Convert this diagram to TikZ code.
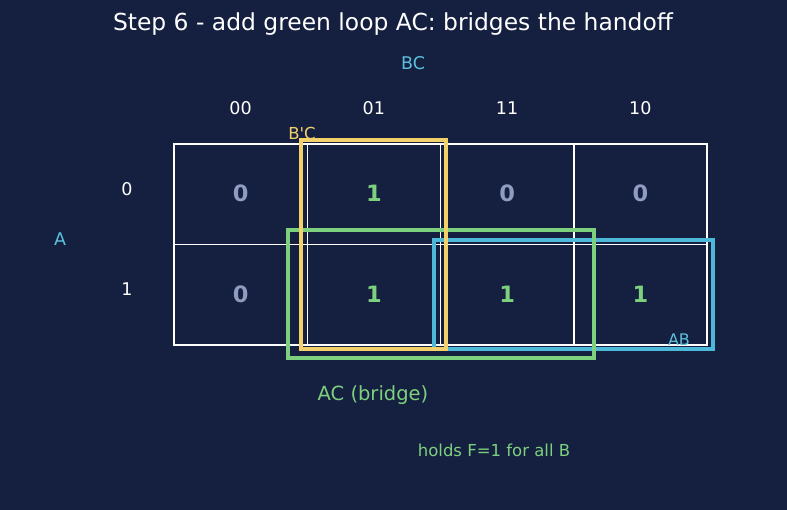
\documentclass[tikz,border=0pt]{standalone}
\usepackage{fontspec}
\setmainfont{DejaVu Sans}
\definecolor{bgnavy}{HTML}{152040}
\definecolor{cyanlab}{HTML}{5BC0DE}
\definecolor{zerogray}{HTML}{8E9CC0}
\definecolor{onegreen}{HTML}{7DD07D}
\definecolor{loopyellow}{HTML}{F2D16B}
\definecolor{loopgreen}{HTML}{7DD07D}
\definecolor{loopblue}{HTML}{4DB8D8}
\tikzset{
  cellbox/.style={draw=white, line width=1.5pt},
  header/.style={text=white, font=\fontsize{17.5}{20}\selectfont},
  zeroval/.style={text=zerogray, font=\fontsize{22.5}{26}\selectfont\bfseries},
  oneval/.style={text=onegreen, font=\fontsize{22.5}{26}\selectfont\bfseries},
  loopbox/.style={line width=4.5pt}
}
\begin{document}
\begin{tikzpicture}[x=1pt, y=-1pt, line join=miter]
		\fill[bgnavy] (0,0) rectangle (787,510);
		\useasboundingbox (0,0) rectangle (787,510);
		% grid cells
		\foreach \c in {0,1,2,3}
		\foreach \r in {0,1}
		\draw[cellbox] ({174+133.25*\c},{144+100.5*\r}) rectangle ++(133.25,100.5);
		% titles and headers
		\node[text=white, font=\fontsize{23.4}{27}\selectfont] (title) at (393,24) {Step 6 - add green loop AC: bridges the handoff};
		\node[text=cyanlab, font=\fontsize{17.5}{20}\selectfont] (bc) at (413,63) {BC};
		\node[text=cyanlab, font=\fontsize{17.5}{20}\selectfont] (a) at (60,239) {A};
		\foreach \lab [count=\i from 0] in {00,01,11,10}
		\node[header] (col\lab) at ({240.6+133.25*\i},108) {\lab};
		\node[header] (row0) at (127,189) {0};
		\node[header] (row1) at (127,289) {1};
		% cell values
		\node[zeroval] (m0) at (240.6,193) {0};
		\node[oneval] (m1) at (373.9,193) {1};
		\node[zeroval] (m3) at (507.1,193) {0};
		\node[zeroval] (m2) at (640.4,193) {0};
		\node[zeroval] (m4) at (240.6,294) {0};
		\node[oneval] (m5) at (373.9,294) {1};
		\node[oneval] (m7) at (507.1,294) {1};
		\node[oneval] (m6) at (640.4,294) {1};
		% loops
		\draw[loopbox, loopblue] (434,240) rectangle (713,349);
		\draw[loopbox, loopgreen] (288,230) rectangle (594,358);
		\draw[loopbox, loopyellow] (301,140) rectangle (446,349);
		\node[text=loopyellow, font=\fontsize{16.5}{19}\selectfont] (bpc) at (302,133) {B\textquotesingle C};
		\node[text=cyanlab, font=\fontsize{16}{19}\selectfont] (ab) at (679,340) {AB};
		\node[text=onegreen, font=\fontsize{19.5}{23}\selectfont] (ac) at (373,395) {AC (bridge)};
		\node[text=onegreen, font=\fontsize{16.5}{19}\selectfont] (note) at (494,450) {holds F=1 for all B};
	\end{tikzpicture}
\end{document}
